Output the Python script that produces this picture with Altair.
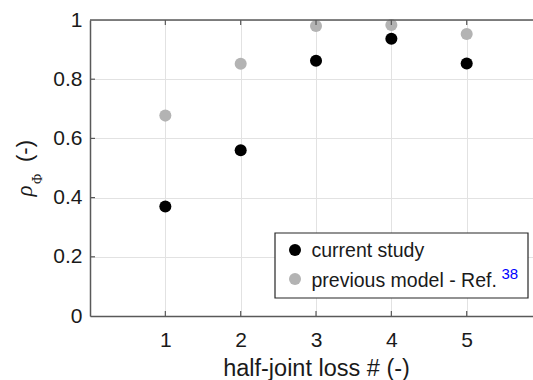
import altair as alt
import pandas as pd

# ---- data ----
loss_ids = [1, 2, 3, 4, 5]
current_study = [0.37, 0.56, 0.862, 0.937, 0.853]
previous_model = [0.677, 0.852, 0.980, 0.983, 0.953]
series_names = ["current study", "previous model - Ref."]
x_ticks = [1, 2, 3, 4, 5]
y_ticks = [0, 0.2, 0.4, 0.6, 0.8, 1.0]

W, H = 443, 296
FONT = "Liberation Sans"
AX = "#595959"
GRID = "#e2e2e2"
TXT = "#1a1a1a"

df = pd.DataFrame({
    "x": loss_ids * 2,
    "y": previous_model + current_study,
    "series": [series_names[1]] * 5 + [series_names[0]] * 5,
})

xs = alt.Scale(domain=[0, 5.88], nice=False, zero=False)
ys = alt.Scale(domain=[0, 1], nice=False)

x_axis = alt.Axis(values=x_ticks, title=None, grid=True, gridColor=GRID,
                  gridWidth=1, domainColor=AX, domainWidth=1.5,
                  tickSize=0, labelFontSize=21, labelFont=FONT,
                  labelColor=TXT, labelPadding=13)
y_axis = alt.Axis(values=y_ticks, format="~g", title=None, grid=True,
                  gridColor=GRID, gridWidth=1, domainColor=AX,
                  domainWidth=1.5, tickSize=0, labelFontSize=21,
                  labelFont=FONT, labelColor=TXT, labelPadding=8)

points = alt.Chart(df).mark_circle(size=145, opacity=1).encode(
    x=alt.X("x:Q", scale=xs, axis=x_axis),
    y=alt.Y("y:Q", scale=ys, axis=y_axis),
    color=alt.Color("series:N", legend=None,
                    scale=alt.Scale(domain=series_names, range=["black", "#b3b3b3"])),
)

xt = pd.DataFrame({"x": x_ticks})
yt = pd.DataFrame({"y": y_ticks[1:-1]})
one = pd.DataFrame({"a": [0]})

xtick_bottom = alt.Chart(xt).mark_rule(color=AX, strokeWidth=1.2).encode(
    x=alt.X("x:Q", scale=xs, axis=x_axis), y=alt.value(H), y2=alt.value(H - 5))
xtick_top = alt.Chart(xt).mark_rule(color=AX, strokeWidth=1.2).encode(
    x=alt.X("x:Q", scale=xs, axis=x_axis), y=alt.value(0), y2=alt.value(5))
ytick_left = alt.Chart(yt).mark_rule(color=AX, strokeWidth=1.2).encode(
    y=alt.Y("y:Q", scale=ys, axis=y_axis), x=alt.value(0), x2=alt.value(5))
top_border = alt.Chart(one).mark_rule(color=AX, strokeWidth=1.5).encode(
    x=alt.value(0), x2=alt.value(W), y=alt.value(0))

# axis titles
x_title = alt.Chart(one).mark_text(text="half-joint loss # (-)", font=FONT, fontSize=23.5,
                                   color=TXT, align="center", baseline="alphabetic").encode(
    x=alt.value(226.5), y=alt.value(356))
rho = alt.Chart(one).mark_text(text="ρ", font="Liberation Serif", fontStyle="italic",
                               fontSize=23, color=TXT, angle=270, align="center",
                               baseline="middle").encode(x=alt.value(-65), y=alt.value(171))
phi = alt.Chart(one).mark_text(text="Φ", font="Liberation Serif", fontSize=14,
                               color=TXT, angle=270, align="center",
                               baseline="middle").encode(x=alt.value(-52), y=alt.value(159))
unit = alt.Chart(one).mark_text(text="(-)", font=FONT, fontSize=22, color=TXT, angle=270,
                                align="center", baseline="middle").encode(
    x=alt.value(-65), y=alt.value(131))

# legend
leg_box = alt.Chart(one).mark_rect(fill="white", stroke="#262626", strokeWidth=1.2).encode(
    x=alt.value(185), x2=alt.value(438), y=alt.value(213), y2=alt.value(278))
leg_p1 = alt.Chart(one).mark_circle(size=145, opacity=1, color="black").encode(
    x=alt.value(205), y=alt.value(230))
leg_p2 = alt.Chart(one).mark_circle(size=145, opacity=1, color="#b3b3b3").encode(
    x=alt.value(205), y=alt.value(259))
leg_t1 = alt.Chart(one).mark_text(text=series_names[0], font=FONT, fontSize=19.5, color=TXT,
                                  align="left", baseline="alphabetic").encode(
    x=alt.value(221.5), y=alt.value(236.7))
leg_t2 = alt.Chart(one).mark_text(text=series_names[1], font=FONT, fontSize=19.5, color=TXT,
                                  align="left", baseline="alphabetic").encode(
    x=alt.value(221.5), y=alt.value(266.7))
leg_sup = alt.Chart(one).mark_text(text="38", font=FONT, fontSize=15, color="#0000ff",
                                   align="left", baseline="alphabetic").encode(
    x=alt.value(411.5), y=alt.value(259.3))

chart = alt.layer(
    points, xtick_bottom, xtick_top, ytick_left, top_border,
    x_title, rho, phi, unit,
    leg_box, leg_p1, leg_p2, leg_t1, leg_t2, leg_sup,
).properties(
    width=W, height=H,
    autosize=alt.AutoSizeParams(type="none"),
    padding={"left": 90, "top": 20, "right": 0, "bottom": 64},
).configure_view(stroke=None).configure(background="white")

chart.save("out.html", embed_options={"renderer": "svg", "actions": False})
